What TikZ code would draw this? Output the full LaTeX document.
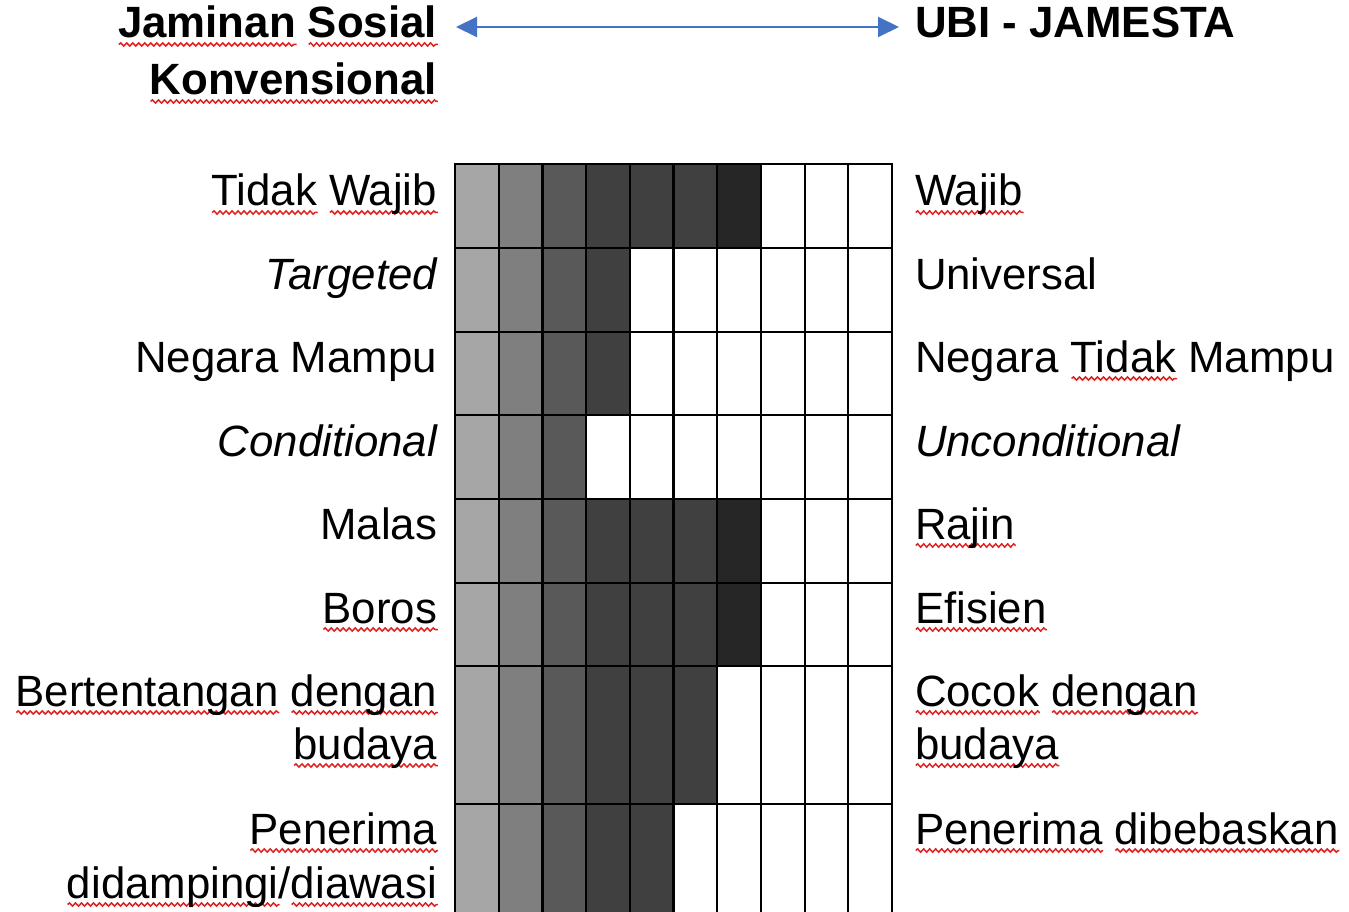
\documentclass[tikz,border=0pt]{standalone}
\usepackage{fontspec}
\setmainfont{Liberation Sans}
\usetikzlibrary{arrows.meta,decorations.pathmorphing}
\definecolor{arrowblue}{HTML}{4472C4}
\definecolor{wavered}{HTML}{E02020}
\definecolor{g1}{HTML}{A6A6A6}
\definecolor{g2}{HTML}{7F7F7F}
\definecolor{g3}{HTML}{595959}
\definecolor{g4}{HTML}{404040}
\definecolor{g5}{HTML}{404040}
\definecolor{g6}{HTML}{404040}
\definecolor{g7}{HTML}{262626}
\newsavebox\sqbox
\newlength\sqlen
\newcommand\sq[1]{\sbox\sqbox{#1}\setlength\sqlen{\wd\sqbox}\leavevmode\rlap{\raisebox{-6.5pt}{\tikz[x=1pt,y=1pt,baseline=0pt]\draw[wavered,line width=1.5pt,decorate,decoration={snake,amplitude=1.6pt,segment length=6pt}] (0,0) -- (\sqlen,0);}}\usebox\sqbox}
\begin{document}
\begin{tikzpicture}[x=1pt,y=-1pt,
  lab/.style={inner sep=0pt,outer sep=0pt,font=\fontsize{43.8pt}{52pt}\selectfont},
  labL/.style={lab,anchor=base east},
  labR/.style={lab,anchor=base west},
  ttl/.style={inner sep=0pt,outer sep=0pt,font=\fontsize{43.8pt}{52pt}\selectfont\bfseries},
  gridline/.style={line width=2.2pt,black}]
\useasboundingbox (0,0) rectangle (1349,912);
\fill[white] (0,0) rectangle (1349,912);
% titles
\node[ttl,anchor=base east] (tl1) at (437,38) {\sq{Jaminan} \sq{Sosial}};
\node[ttl,anchor=base east] (tl2) at (437,95) {\sq{Konvensional}};
\node[ttl,anchor=base west] (tr) at (915,38) {UBI - JAMESTA};
\coordinate (aL) at (456,27);
\coordinate (aR) at (899,27);
\draw[arrowblue,line width=2pt,{Triangle[length=21pt,width=20pt]}-{Triangle[length=21pt,width=20pt]}] (aL) -- (aR);
% grid
\begin{scope}
\clip (0,0) rectangle (1349,912);
\foreach \top/\bot/\n in {164/248/7, 248/332/4, 332/415/4, 415/499/3, 499/583/7, 583/666/7, 666/804/6, 804/942/5} {
  \foreach \c in {1,...,\n} {
    \fill[fill=g\c] ({455+(\c-1)*43.7},\top) rectangle ({455+\c*43.7},\bot);
  }
}
\foreach \i in {1,...,9} \draw[gridline] ({455+\i*43.7},164) -- ({455+\i*43.7},942);
\foreach \y in {248,332,415,499,583,666,804} \draw[gridline] (455,\y) -- (892,\y);
\draw[gridline] (455,164) rectangle (892,942);
\end{scope}
% left labels
\node[labL] (l1) at (437,206) {\sq{Tidak} \sq{Wajib}};
\node[labL] (l2) at (437,289) {\itshape Targeted};
\node[labL] (l3) at (437,372) {Negara Mampu};
\node[labL] (l4) at (437,456) {\itshape Conditional};
\node[labL] (l5) at (437,539) {Malas};
\node[labL] (l6) at (437,623) {\sq{Boros}};
\node[labL] (l7a) at (437,706) {\sq{Bertentangan} \sq{dengan}};
\node[labL] (l7b) at (437,759) {\sq{budaya}};
\node[labL] (l8a) at (437,844) {\sq{Penerima}};
\node[labL] (l8b) at (437,898) {\sq{didampingi}/\sq{diawasi}};
% right labels
\node[labR] (r1) at (915,206) {\sq{Wajib}};
\node[labR] (r2) at (915,289) {Universal};
\node[labR] (r3) at (915,372) {Negara \sq{Tidak} Mampu};
\node[labR] (r4) at (915,456) {\itshape Unconditional};
\node[labR] (r5) at (915,539) {\sq{Rajin}};
\node[labR] (r6) at (915,623) {\sq{Efisien}};
\node[labR] (r7a) at (915,706) {\sq{Cocok} \sq{dengan}};
\node[labR] (r7b) at (915,759) {\sq{budaya}};
\node[labR] (r8) at (915,844) {\sq{Penerima} \sq{dibebaskan}};
\end{tikzpicture}
\end{document}
